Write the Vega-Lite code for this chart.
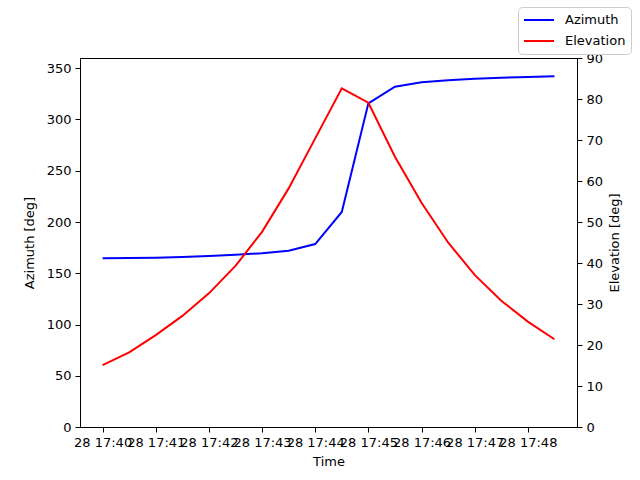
{
  "$schema": "https://vega.github.io/schema/vega-lite/v6.json",
  "width": 497,
  "height": 369,
  "autosize": {"type": "none"},
  "padding": {"left": 80, "top": 58, "right": 63, "bottom": 53},
  "background": "white",
  "config": {
    "font": "DejaVu Sans",
    "view": {"stroke": "black", "strokeWidth": 1},
    "axis": {
      "labelFontSize": 13, "titleFontSize": 13, "titleFontWeight": "normal",
      "labelColor": "black", "titleColor": "black", "domainColor": "black",
      "tickColor": "black", "tickSize": 5, "labelPadding": 4, "grid": false,
      "labelFont": "DejaVu Sans", "titleFont": "DejaVu Sans"
    },
    "legend": {
      "orient": "none", "legendX": 438, "legendY": -51,
      "strokeColor": "#cccccc", "fillColor": "white", "cornerRadius": 4, "padding": 5,
      "symbolType": "stroke", "symbolSize": 900, "symbolStrokeWidth": 2,
      "labelFontSize": 13, "labelFont": "DejaVu Sans", "labelColor": "black",
      "labelOffset": 10, "clipHeight": 16, "rowPadding": 5
    }
  },
  "data": {"values": [
    {"time": "2024-01-28T17:40:00", "azimuth": 164.6, "elevation": 15.1},
    {"time": "2024-01-28T17:40:30", "azimuth": 164.8, "elevation": 18.2},
    {"time": "2024-01-28T17:41:00", "azimuth": 165.2, "elevation": 22.4},
    {"time": "2024-01-28T17:41:30", "azimuth": 165.9, "elevation": 27.1},
    {"time": "2024-01-28T17:42:00", "azimuth": 166.8, "elevation": 32.6},
    {"time": "2024-01-28T17:42:30", "azimuth": 168.1, "elevation": 39.3},
    {"time": "2024-01-28T17:43:00", "azimuth": 169.5, "elevation": 47.6},
    {"time": "2024-01-28T17:43:30", "azimuth": 172.0, "elevation": 58.2},
    {"time": "2024-01-28T17:44:00", "azimuth": 178.5, "elevation": 70.4},
    {"time": "2024-01-28T17:44:30", "azimuth": 209.8, "elevation": 82.6},
    {"time": "2024-01-28T17:45:00", "azimuth": 315.8, "elevation": 79.1},
    {"time": "2024-01-28T17:45:30", "azimuth": 332.0, "elevation": 65.9},
    {"time": "2024-01-28T17:46:00", "azimuth": 336.3, "elevation": 54.7},
    {"time": "2024-01-28T17:46:30", "azimuth": 338.2, "elevation": 45.0},
    {"time": "2024-01-28T17:47:00", "azimuth": 339.8, "elevation": 37.1},
    {"time": "2024-01-28T17:47:30", "azimuth": 340.8, "elevation": 30.8},
    {"time": "2024-01-28T17:48:00", "azimuth": 341.5, "elevation": 25.7},
    {"time": "2024-01-28T17:48:30", "azimuth": 342.1, "elevation": 21.4}
  ]},
  "layer": [
    {
      "mark": {"type": "line", "strokeWidth": 2},
      "encoding": {
        "x": {
          "field": "time", "type": "temporal",
          "scale": {"domain": [
            {"year": 2024, "month": 1, "date": 28, "hours": 17, "minutes": 39, "seconds": 34, "milliseconds": 500},
            {"year": 2024, "month": 1, "date": 28, "hours": 17, "minutes": 48, "seconds": 55, "milliseconds": 500}
          ], "nice": false},
          "axis": {
            "title": "Time", "format": "%d %H:%M", "labelOverlap": false, "labelFlush": false,
            "titlePadding": 6,
            "values": [
              {"year": 2024, "month": 1, "date": 28, "hours": 17, "minutes": 40},
              {"year": 2024, "month": 1, "date": 28, "hours": 17, "minutes": 41},
              {"year": 2024, "month": 1, "date": 28, "hours": 17, "minutes": 42},
              {"year": 2024, "month": 1, "date": 28, "hours": 17, "minutes": 43},
              {"year": 2024, "month": 1, "date": 28, "hours": 17, "minutes": 44},
              {"year": 2024, "month": 1, "date": 28, "hours": 17, "minutes": 45},
              {"year": 2024, "month": 1, "date": 28, "hours": 17, "minutes": 46},
              {"year": 2024, "month": 1, "date": 28, "hours": 17, "minutes": 47},
              {"year": 2024, "month": 1, "date": 28, "hours": 17, "minutes": 48}
            ]
          }
        },
        "y": {
          "field": "azimuth", "type": "quantitative",
          "scale": {"domain": [0, 360], "nice": false},
          "axis": {"title": "Azimuth [deg]", "values": [0, 50, 100, 150, 200, 250, 300, 350], "titlePadding": 10}
        },
        "color": {
          "datum": "Azimuth", "type": "nominal",
          "scale": {"domain": ["Azimuth", "Elevation"], "range": ["#0000ff", "#ff0000"]},
          "legend": {"title": null}
        }
      }
    },
    {
      "mark": {"type": "line", "strokeWidth": 2},
      "encoding": {
        "x": {"field": "time", "type": "temporal"},
        "y": {
          "field": "elevation", "type": "quantitative",
          "scale": {"domain": [0, 90], "nice": false},
          "axis": {"title": "Elevation [deg]", "orient": "right", "titleAngle": 270, "titleBaseline": "top", "values": [0, 10, 20, 30, 40, 50, 60, 70, 80, 90], "titlePadding": 6}
        },
        "color": {"datum": "Elevation", "type": "nominal"}
      }
    }
  ],
  "resolve": {"scale": {"y": "independent"}}
}
